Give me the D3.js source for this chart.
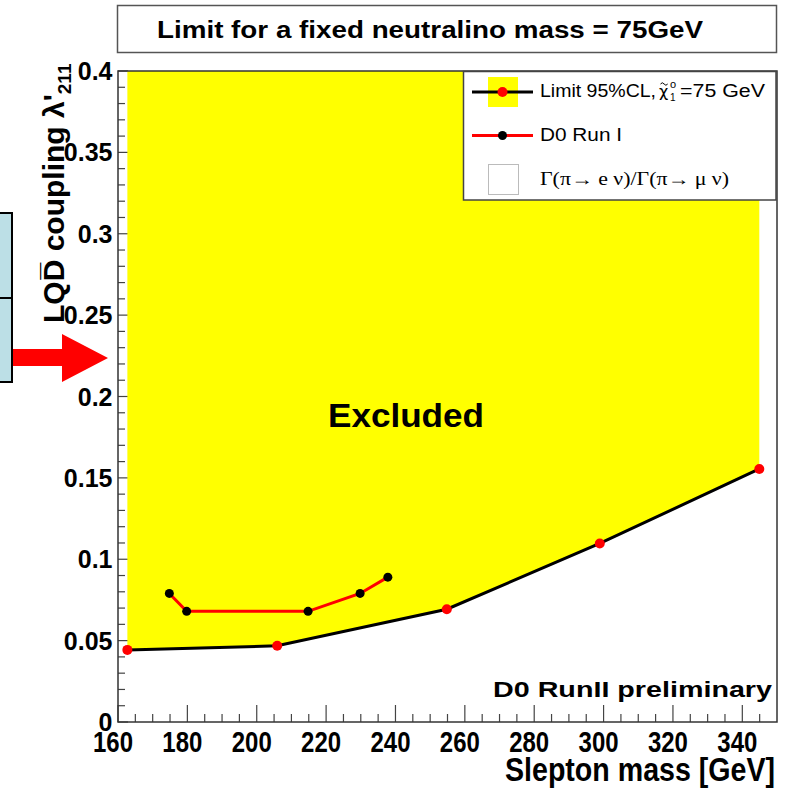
<!DOCTYPE html>
<html><head><meta charset="utf-8">
<script src="https://cdn.jsdelivr.net/npm/d3@7"></script>
<style>body{margin:0;background:#fff} svg{display:block}</style>
</head><body>
<svg id="c" width="786" height="793"></svg>
<script>
// ---- data ----
const limitMass = [162.7, 205.9, 254.8, 298.9, 344.9];
const limitCoupling = [0.0443, 0.0468, 0.0693, 0.1097, 0.1555];
const runIMass = [174.8, 179.8, 214.8, 229.8, 237.8];
const runICoupling = [0.079, 0.068, 0.068, 0.079, 0.089];
const xTickValues = [160, 180, 200, 220, 240, 260, 280, 300, 320, 340];
const xTickLabels = ["160", "180", "200", "220", "240", "260", "280", "300", "320", "340"];
const yTickValues = [0, 0.05, 0.1, 0.15, 0.2, 0.25, 0.3, 0.35, 0.4];
const yTickLabels = ["0", "0.05", "0.1", "0.15", "0.2", "0.25", "0.3", "0.35", "0.4"];
const xDomain = [160, 350];
const yDomain = [0, 0.4];

const svg = d3.select("#c");
const L = 118, R = 777, T = 71, B = 722;
const x = d3.scaleLinear().domain(xDomain).range([L, R]);
const y = d3.scaleLinear().domain(yDomain).range([B, T]);
const BOLD = "'Liberation Sans', Arial, Helvetica, sans-serif";
const NARROW = "'Liberation Sans Narrow', 'Liberation Sans', Arial, sans-serif";

// ---- slide remnants on the left ----
svg.append("rect").attr("x", -20).attr("y", 213).attr("width", 32).attr("height", 85)
  .attr("fill", "#bcdfe6").attr("stroke", "#000").attr("stroke-width", 2);
svg.append("rect").attr("x", -20).attr("y", 298).attr("width", 32).attr("height", 84)
  .attr("fill", "#bcdfe6").attr("stroke", "#000").attr("stroke-width", 2);
svg.append("path")
  .attr("d", "M13,349 L62,349 L62,334 L108,358 L62,382 L62,366 L13,366 Z")
  .attr("fill", "#ff0000");

// ---- title box ----
svg.append("rect").attr("x", 117.5).attr("y", 5.5).attr("width", 659).attr("height", 47)
  .attr("fill", "#fff").attr("stroke", "#555").attr("stroke-width", 1.5);
svg.append("text").attr("x", 157).attr("y", 38)
  .attr("font-family", BOLD).attr("font-weight", "bold").attr("font-size", 23)
  .attr("textLength", 546).attr("lengthAdjust", "spacingAndGlyphs")
  .text("Limit for a fixed neutralino mass = 75GeV");

// ---- axes ticks (inside frame) ----
const gAx = svg.append("g");
const xMinor = d3.range(160, 350, 5);
gAx.selectAll("line.xt").data(xMinor).join("line")
  .attr("x1", d => x(d)).attr("x2", d => x(d))
  .attr("y1", B).attr("y2", d => B - (d % 20 === 0 ? 17 : 8))
  .attr("stroke", "#444").attr("stroke-width", 1.2);
const yMinor = d3.range(0, 0.4001, 0.01);
gAx.selectAll("line.yt").data(yMinor).join("line")
  .attr("y1", d => y(d)).attr("y2", d => y(d))
  .attr("x1", L).attr("x2", (d, i) => L + (i % 5 === 0 ? 10 : 7))
  .attr("stroke", "#444").attr("stroke-width", 1.2);

// ---- excluded area ----
const pts = limitMass.map((m, i) => [m, limitCoupling[i]]);
const area = d3.area().x(d => x(d[0])).y0(() => y(0.4)).y1(d => y(d[1]));
svg.append("path").datum(pts).attr("d", area).attr("fill", "#ffff00");

// frame
svg.append("rect").attr("x", L).attr("y", T).attr("width", R - L).attr("height", B - T)
  .attr("fill", "none").attr("stroke", "#333").attr("stroke-width", 1.5);

// limit line + points
const line = d3.line().x(d => x(d[0])).y(d => y(d[1]));
svg.append("path").datum(pts).attr("d", line).attr("fill", "none")
  .attr("stroke", "#000").attr("stroke-width", 3);
svg.selectAll("circle.lim").data(pts).join("circle")
  .attr("cx", d => x(d[0])).attr("cy", d => y(d[1])).attr("r", 5).attr("fill", "#ff0000");

// Run I line + points
const pts1 = runIMass.map((m, i) => [m, runICoupling[i]]);
svg.append("path").datum(pts1).attr("d", line).attr("fill", "none")
  .attr("stroke", "#ff0000").attr("stroke-width", 3);
svg.selectAll("circle.r1").data(pts1).join("circle")
  .attr("cx", d => x(d[0])).attr("cy", d => y(d[1])).attr("r", 4.5).attr("fill", "#000");

// ---- tick labels ----
svg.selectAll("text.xl").data(xTickValues).join("text")
  .attr("x", d => x(d) - 5).attr("y", 752)
  .attr("text-anchor", "middle").attr("font-family", NARROW).attr("font-weight", "bold")
  .attr("font-size", 29).attr("textLength", 40).attr("lengthAdjust", "spacingAndGlyphs")
  .text((d, i) => xTickLabels[i]);
svg.selectAll("text.yl").data(yTickValues).join("text")
  .attr("x", 112.5).attr("y", d => y(d) + 9)
  .attr("text-anchor", "end").attr("font-family", BOLD).attr("font-weight", "bold")
  .attr("font-size", 25)
  .text((d, i) => yTickLabels[i]);

// ---- axis titles ----
svg.append("text").attr("x", 775).attr("y", 781).attr("text-anchor", "end")
  .attr("font-family", NARROW).attr("font-weight", "bold").attr("font-size", 34)
  .attr("textLength", 270).attr("lengthAdjust", "spacingAndGlyphs")
  .text("Slepton mass [GeV]");

const yt = svg.append("text").attr("transform", "translate(64,323) rotate(-90)")
  .attr("font-family", BOLD).attr("font-weight", "bold").attr("font-size", 30);
yt.append("tspan").text("LQD\u0305 coupling \u03bb'");
yt.append("tspan").attr("dy", 7).attr("font-size", 19).text("211");

// ---- annotations ----
svg.append("text").attr("x", 328).attr("y", 427)
  .attr("font-family", BOLD).attr("font-weight", "bold").attr("font-size", 33)
  .attr("textLength", 156).attr("lengthAdjust", "spacingAndGlyphs").text("Excluded");
svg.append("text").attr("x", 493).attr("y", 697)
  .attr("font-family", BOLD).attr("font-weight", "bold").attr("font-size", 22)
  .attr("textLength", 279).attr("lengthAdjust", "spacingAndGlyphs").text("D0 RunII preliminary");

// ---- legend ----
const lg = svg.append("g");
lg.append("rect").attr("x", 463.5).attr("y", 71.5).attr("width", 312.5).attr("height", 128.5)
  .attr("fill", "#fff").attr("stroke", "#444").attr("stroke-width", 1.5);
lg.append("rect").attr("x", 488).attr("y", 77).attr("width", 30).attr("height", 30).attr("fill", "#ffff00");
lg.append("line").attr("x1", 472).attr("x2", 533).attr("y1", 92).attr("y2", 92)
  .attr("stroke", "#000").attr("stroke-width", 3);
lg.append("circle").attr("cx", 502.5).attr("cy", 92).attr("r", 5).attr("fill", "#ff0000");
lg.append("line").attr("x1", 472).attr("x2", 533).attr("y1", 135.5).attr("y2", 135.5)
  .attr("stroke", "#ff0000").attr("stroke-width", 3);
lg.append("circle").attr("cx", 502.5).attr("cy", 135.5).attr("r", 4.5).attr("fill", "#000");
lg.append("rect").attr("x", 488.5).attr("y", 164.5).attr("width", 30).attr("height", 30)
  .attr("fill", "#fff").attr("stroke", "#bbb").attr("stroke-width", 1);

const LF = "'Liberation Sans', Arial, sans-serif";
lg.append("text").attr("x", 540).attr("y", 97).attr("font-family", LF).attr("font-size", 18)
  .attr("textLength", 116).attr("lengthAdjust", "spacingAndGlyphs").text("Limit 95%CL,");
lg.append("text").attr("x", 659).attr("y", 97).attr("font-family", "'DejaVu Sans', sans-serif")
  .attr("font-size", 16).text("\u03c7");
// tilde over chi
lg.append("path").attr("d", "M660.5,84 q1.8,-2.5 3.6,0 t3.6,0").attr("fill", "none")
  .attr("stroke", "#000").attr("stroke-width", 1);
lg.append("text").attr("x", 670).attr("y", 88).attr("font-family", LF).attr("font-size", 11).text("o");
lg.append("text").attr("x", 670).attr("y", 101).attr("font-family", LF).attr("font-size", 10).text("1");
lg.append("text").attr("x", 680).attr("y", 97).attr("font-family", LF).attr("font-size", 18)
  .attr("textLength", 85).attr("lengthAdjust", "spacingAndGlyphs").text("=75 GeV");
lg.append("text").attr("x", 540).attr("y", 141).attr("font-family", LF).attr("font-size", 18)
  .attr("textLength", 82).attr("lengthAdjust", "spacingAndGlyphs").text("D0 Run I");
lg.append("text").attr("x", 540).attr("y", 185).attr("font-family", "'Liberation Serif', serif")
  .attr("font-size", 18).attr("textLength", 189).attr("lengthAdjust", "spacingAndGlyphs")
  .text("\u0393(\u03c0\u2192 e \u03bd)/\u0393(\u03c0\u2192 \u03bc \u03bd)");
</script>
</body></html>
